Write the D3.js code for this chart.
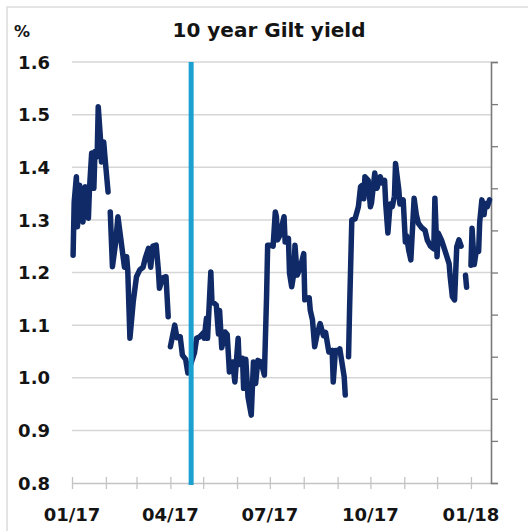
<!DOCTYPE html>
<meta charset="utf-8">
<script src="https://d3js.org/d3.v7.min.js"></script>
<style>
  body { margin: 0; background: #fff; }
  text { font-family: "DejaVu Sans", sans-serif; font-weight: bold; fill: #141414; }
</style>

<svg id="chart" width="528" height="531"></svg>

<script>

// 10 year gilt yield (null = break in the line)
var dates = [
  "2017-01-02","2017-01-03","2017-01-05","2017-01-06","2017-01-08","2017-01-11","2017-01-13","2017-01-16",
  "2017-01-17","2017-01-19","2017-01-21","2017-01-22","2017-01-24","2017-01-25","2017-01-27","2017-01-28",
  "2017-01-30","2017-01-31","2017-02-03","2017-02-04",
  "2017-02-05","2017-02-07","2017-02-10","2017-02-12","2017-02-15","2017-02-18","2017-02-20","2017-02-21",
  "2017-02-23","2017-02-26","2017-03-01","2017-03-04","2017-03-07","2017-03-09","2017-03-12","2017-03-14",
  "2017-03-16","2017-03-19","2017-03-21","2017-03-22","2017-03-25","2017-03-28","2017-03-30","2017-03-31",
  "2017-04-01","2017-04-05","2017-04-07","2017-04-10","2017-04-12","2017-04-15","2017-04-17","2017-04-23",
  "2017-04-25","2017-04-28","2017-05-01","2017-05-02","2017-05-04","2017-05-05","2017-05-08","2017-05-09",
  "2017-05-13","2017-05-15","2017-05-16","2017-05-18","2017-05-21","2017-05-23","2017-05-25","2017-05-28",
  "2017-05-30","2017-06-02","2017-06-03","2017-06-06","2017-06-07","2017-06-09","2017-06-11","2017-06-14",
  "2017-06-16","2017-06-18","2017-06-20","2017-06-23","2017-06-26","2017-06-28","2017-06-29","2017-07-01",
  "2017-07-04","2017-07-06","2017-07-07","2017-07-08","2017-07-10","2017-07-14","2017-07-15","2017-07-18",
  "2017-07-19","2017-07-21","2017-07-23","2017-07-24","2017-07-26","2017-07-29","2017-08-01","2017-08-02",
  "2017-08-06","2017-08-07","2017-08-09","2017-08-11","2017-08-13","2017-08-16","2017-08-19","2017-08-21",
  "2017-08-24","2017-08-27","2017-08-28","2017-08-30","2017-09-02","2017-09-03","2017-09-07","2017-09-08",
  "2017-09-09",
  "2017-09-11","2017-09-12","2017-09-14","2017-09-17","2017-09-20","2017-09-22","2017-09-23","2017-09-25",
  "2017-09-26","2017-09-29","2017-10-01","2017-10-02","2017-10-05","2017-10-07","2017-10-10","2017-10-12",
  "2017-10-14","2017-10-15","2017-10-17","2017-10-19","2017-10-21","2017-10-23","2017-10-24","2017-10-27",
  "2017-10-28","2017-10-31","2017-11-02","2017-11-03","2017-11-05","2017-11-07","2017-11-10","2017-11-12",
  "2017-11-14","2017-11-17","2017-11-20","2017-11-22","2017-11-25","2017-11-28","2017-11-29","2017-12-01",
  "2017-12-02","2017-12-05","2017-12-08","2017-12-12","2017-12-13","2017-12-15","2017-12-17","2017-12-19",
  "2017-12-21","2017-12-23","2017-12-25","2017-12-27","2017-12-28","2017-12-30",
  "2018-01-01","2018-01-02","2018-01-04","2018-01-06","2018-01-08","2018-01-09","2018-01-11","2018-01-13",
  "2018-01-14","2018-01-16","2018-01-18"
];
var yields = [
  1.233,1.334,1.382,1.287,1.366,1.296,1.363,1.303,
  1.360,1.427,1.360,1.430,1.420,1.515,1.455,1.410,
  1.448,1.423,1.353,null,
  1.315,1.211,1.258,1.306,1.258,1.210,1.230,1.205,
  1.075,1.144,1.192,1.205,1.210,1.227,1.246,1.210,
  1.250,1.252,1.205,1.170,1.190,1.192,1.116,null,
  1.059,1.100,1.076,1.078,1.043,1.035,1.009,1.047,
  1.075,1.078,1.085,1.075,1.113,1.075,1.201,1.145,
  1.138,1.083,1.128,1.057,1.087,1.082,1.011,1.030,
  0.992,1.075,1.025,1.037,0.980,1.035,0.964,0.929,
  1.030,0.989,1.033,1.030,1.005,1.154,1.252,1.252,
  1.250,1.315,1.306,1.262,1.270,1.306,1.258,1.265,
  1.199,1.173,1.199,1.252,1.195,1.210,1.236,1.148,
  1.152,1.128,1.110,1.059,1.080,1.103,1.080,1.086,
  1.049,1.052,0.992,1.052,1.052,1.055,1.002,0.967,
  null,
  1.040,1.135,1.300,1.302,1.325,1.363,1.365,1.340,
  1.382,1.375,1.325,1.332,1.389,1.360,1.382,1.370,
  1.375,1.331,1.275,1.330,1.325,1.345,1.407,1.357,
  1.330,1.338,1.258,1.270,1.243,1.224,1.341,1.310,
  1.293,1.285,1.280,1.262,1.250,1.245,1.341,1.230,
  1.275,1.262,1.243,1.217,1.192,1.154,1.148,1.249,
  1.262,1.250,null,1.195,1.172,null,
  1.214,1.284,1.215,1.243,1.240,1.296,1.338,1.310,
  1.331,1.325,1.338
];

var yTicks = [0.8, 0.9, 1.0, 1.1, 1.2, 1.3, 1.4, 1.5, 1.6];
var xLabelMonths = [0, 3, 6, 9];          // months that get a label
var markerDate = "2017-04-20";            // vertical marker
var xStart = "2017-01-01", xEnd = "2018-01-19";

var parse = d3.timeParse("%Y-%m-%d");
var data = dates.map(function(d, i) { return { date: parse(d), v: yields[i] }; });

var svg = d3.select("#chart");

// outer frame
svg.append("rect")
    .attr("x", 7).attr("y", 7)
    .attr("width", 540).attr("height", 540)
    .attr("fill", "none")
    .attr("stroke", "#dcdcdc")
    .attr("stroke-width", 1.5);

var x = d3.scaleTime()
    .domain([parse(xStart), d3.timeHour.offset(parse(xEnd), 8)])
    .range([72, 491]);

var y = d3.scaleLinear()
    .domain([0.8, 1.6])
    .range([483, 62]);

// grid lines
svg.append("g")
  .selectAll("line")
  .data(yTicks.filter(function(d) { return d > 0.8; }))
  .enter()
  .append("line")
    .attr("x1", x.range()[0])
    .attr("x2", x.range()[1])
    .attr("y1", function(d) { return y(d); })
    .attr("y2", function(d) { return y(d); })
    .attr("stroke", "#d6d6d6")
    .attr("stroke-width", 1.5);

// left labels
svg.append("g")
  .selectAll("text")
  .data(yTicks)
  .enter()
  .append("text")
    .attr("x", 50)
    .attr("y", function(d) { return y(d); })
    .attr("dy", "0.37em")
    .attr("text-anchor", "end")
    .style("font-size", "18px")
    .text(function(d) { return d3.format(".1f")(d); });

// bottom axis
var xAxis = d3.axisBottom(x)
    .ticks(d3.timeMonth.every(1))
    .tickSize(0)
    .tickFormat("");
var gx = svg.append("g")
    .attr("transform", "translate(0," + y(0.8) + ")")
    .call(xAxis);
gx.select(".domain").attr("stroke", "#c4c4c4").attr("stroke-width", 1.3);

gx.selectAll(".tick line")
    .attr("y1", -6)
    .attr("y2", 6)
    .attr("stroke", "#c4c4c4")
    .attr("stroke-width", 1.3);

svg.append("g")
  .selectAll("text")
  .data(x.ticks(d3.timeMonth.every(1)).filter(function(d) { return xLabelMonths.indexOf(d.getMonth()) >= 0; }))
  .enter()
  .append("text")
    .attr("x", function(d) { return x(d); })
    .attr("y", 521)
    .attr("text-anchor", "middle")
    .style("font-size", "18px")
    .text(d3.timeFormat("%m/%y"));

// right axis, ticks only
var yRight = d3.scaleLinear().domain([0, 10]).range([483, 62]);
var gr = svg.append("g")
    .attr("transform", "translate(491,0)")
    .call(d3.axisRight(yRight).ticks(10).tickSize(7).tickSizeOuter(7).tickFormat(""));
gr.select(".domain").attr("stroke", "#7a7a7a").attr("stroke-width", 1.6);
gr.selectAll(".tick line").attr("stroke", "#7a7a7a").attr("stroke-width", 1.3);

// yield line
var line = d3.line()
    .defined(function(d) { return d.v !== null; })
    .x(function(d) { return x(d.date); })
    .y(function(d) { return y(d.v); });

svg.append("path")
    .datum(data)
    .attr("d", line)
    .attr("fill", "none")
    .attr("stroke", "#0f2a66")
    .attr("stroke-width", 5.5)
    .attr("stroke-linejoin", "round")
    .attr("stroke-linecap", "round");

// marker
svg.append("line")
    .attr("x1", x(parse(markerDate)))
    .attr("x2", x(parse(markerDate)))
    .attr("y1", y(1.6))
    .attr("y2", y(0.8) + 2)
    .attr("stroke", "#1ca0d0")
    .attr("stroke-width", 5);

// titles
svg.append("text")
    .attr("x", 269)
    .attr("y", 37)
    .attr("text-anchor", "middle")
    .style("font-size", "20px")
    .text("10 year Gilt yield");

svg.append("text")
    .attr("x", 14)
    .attr("y", 37)
    .style("font-size", "16px")
    .text("%");

</script>
